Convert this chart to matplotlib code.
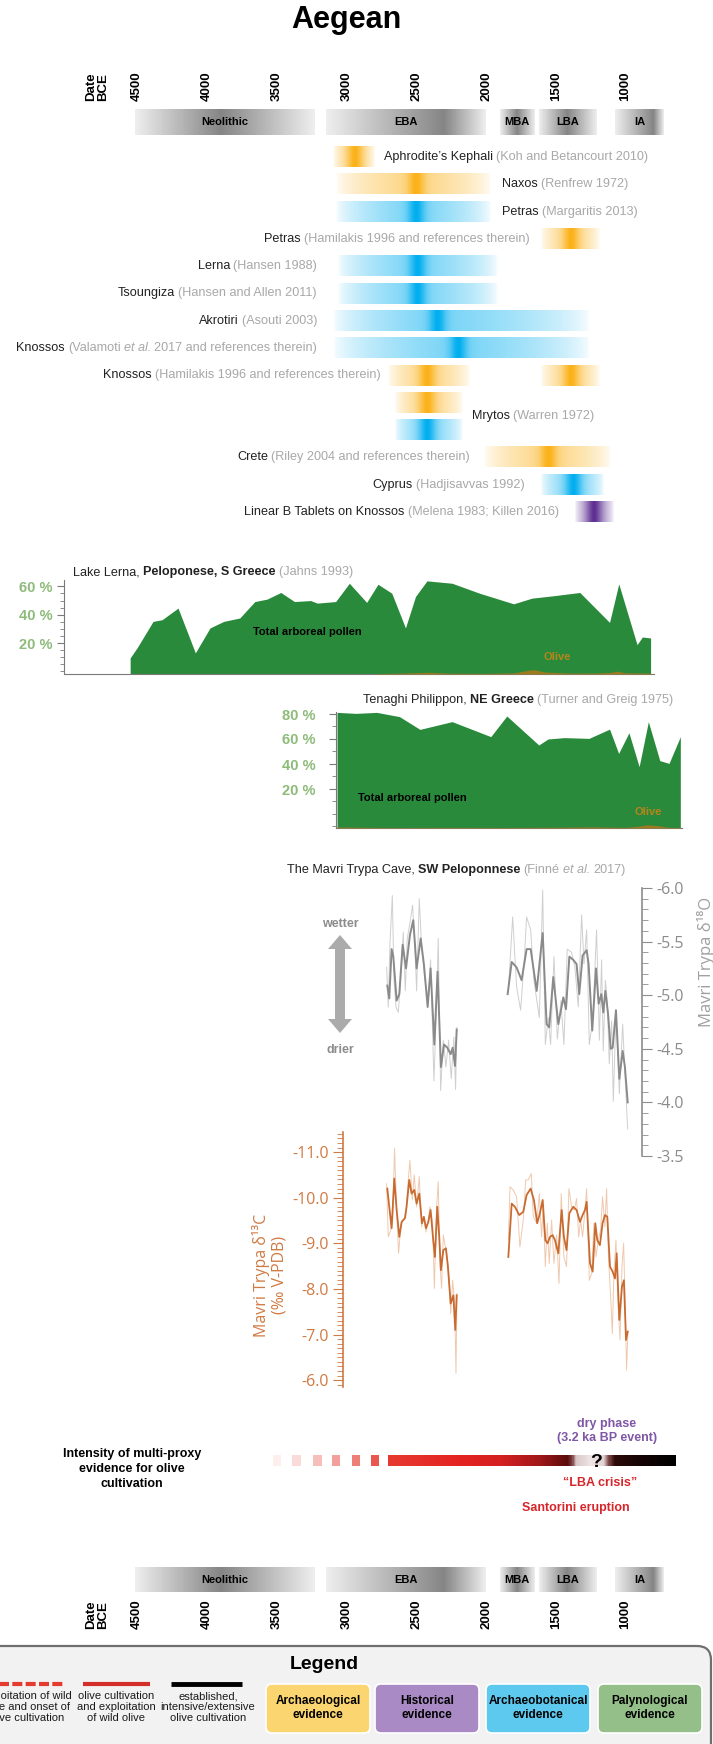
import numpy as np
import matplotlib
matplotlib.use("Agg")
import matplotlib.pyplot as plt
from matplotlib import font_manager
from matplotlib.colors import to_rgb, LinearSegmentedColormap
from matplotlib.patches import FancyBboxPatch, FancyArrow
from matplotlib.ticker import MultipleLocator

nan = np.nan

# Fuentes
installed = {f.name for f in font_manager.fontManager.ttflist}
HAS_NARROW = 'Liberation Sans Narrow' in installed
NARROW = ['Liberation Sans Narrow' if HAS_NARROW else 'Liberation Sans', 'DejaVu Sans']
SANS = ['Liberation Sans', 'DejaVu Sans']
MYRIAD = ['Open Sans', 'DejaVu Sans']
NS = 1.0 if HAS_NARROW else 0.84
plt.rcParams['font.family'] = SANS

# ---------------- datos ----------------
year_ticks = [4500, 4000, 3500, 3000, 2500, 2000, 1500, 1000]

periods = ['Neolithic', 'EBA', 'MBA', 'LBA', 'IA']
period_start = [4515, 3145, 1900, 1620, 1075]
period_end = [3230, 2000, 1655, 1210, 725]
period_peak = [3900, 2300, 1780, 1420, 800]

# barras de evidencia (fila, inicio, fin, máximo, tipo)
ev_row = [0, 1, 2, 3, 4, 5, 6, 7, 8, 8, 9, 10, 11, 12, 13]
ev_start = [3095, 3075, 3075, 1605, 3060, 3060, 3095, 3095, 2700, 1605, 2650, 2650, 2015, 1605, 1360]
ev_end = [2800, 1965, 1965, 1185, 1915, 1915, 1260, 1260, 2115, 1185, 2165, 2165, 1110, 1160, 1085]
ev_peak = [2940, 2500, 2500, 1390, 2490, 2490, 2350, 2200, 2420, 1390, 2420, 2420, 1555, 1375, 1225]
ev_kind = ['arch', 'arch', 'bot', 'arch', 'bot', 'bot', 'bot', 'bot', 'arch', 'arch',
           'arch', 'bot', 'arch', 'bot', 'hist']

site_names = ["Aphrodite’s Kephali", "Naxos", "Petras", "Petras", "Lerna", "Tsoungiza",
              "Akrotiri", "Knossos", "Knossos", "Mrytos", "Crete", "Cyprus",
              "Linear B Tablets on Knossos"]
site_refs = ["(Koh and Betancourt 2010)", "(Renfrew 1972)", "(Margaritis 2013)",
             "(Hamilakis 1996 and references therein)", "(Hansen 1988)",
             "(Hansen and Allen 2011)", "(Asouti 2003)",
             "(Valamoti |et al.| 2017 and references therein)",
             "(Hamilakis 1996 and references therein)", "(Warren 1972)",
             "(Riley 2004 and references therein)", "(Hadjisavvas 1992)",
             "(Melena 1983; Killen 2016)"]
site_row = [0, 1, 2, 3, 4, 5, 6, 7, 8, 9.5, 11, 12, 13]
site_side = ['r', 'r', 'r', 'l', 'l', 'l', 'l', 'l', 'l', 'r', 'l', 'l', 'l']
site_anchor = [2730, 1885, 1885, 1685, 3210, 3210, 3210, 3210, 2752, 2100, 2114, 1720, 1477]

# Lago Lerna (Jahns 1993)
lerna_yr = [4549, 4500, 4385, 4320, 4206, 4082, 3977, 3879, 3764, 3656, 3569, 3470, 3372,
            3257, 3208, 3077, 2979, 2855, 2774, 2675, 2577, 2505, 2423, 2243, 2047, 1802,
            1671, 1524, 1328, 1115, 1049, 918, 880, 821]
lerna_ap = [9.6, 16.6, 35.3, 36.5, 44.7, 13.1, 30.7, 35.3, 37.7, 49.3, 51.0, 55.7, 49.3,
            50.0, 48.2, 49.3, 62.2, 48.7, 61.5, 55.2, 30.7, 52.9, 63.9, 62.2, 55.2, 47.7,
            51.7, 53.3, 55.7, 34.6, 61.8, 18.9, 24.3, 23.6]
lerna_olive_yr = [2800, 2600, 2410, 2250, 2000, 1800, 1700, 1650, 1580, 1400, 1200, 1100,
                  1060, 1000, 821]
lerna_olive = [0.2, 0.6, 1.2, 0.5, 0.4, 0.8, 2.6, 3.0, 1.4, 0.6, 0.7, 1.2, 2.0, 0.8, 0.6]

# Tenaghi Philippon (Turner y Greig 1975)
ten_yr = [3067, 2931, 2783, 2620, 2473, 2243, 1966, 1851, 1622, 1556, 1441, 1262, 1115,
          1050, 976, 903, 837, 755, 689, 608]
ten_ap = [81.3, 80.5, 81.3, 77.9, 67.7, 73.9, 61.9, 78.4, 55.2, 60.0, 61.1, 60.5, 67.9,
          48.5, 65.0, 37.9, 73.9, 42.7, 40.5, 61.9]
ten_olive_yr = [3067, 2700, 2300, 1900, 1500, 1250, 1000, 900, 850, 760, 700, 608]
ten_olive = [0.8, 0.3, 0.5, 0.4, 0.6, 0.9, 0.5, 1.5, 2.6, 1.8, 0.6, 0.4]

# Cueva Mavri Trypa (Finné et al. 2017), d18O
d18o_raw_yr = [2712, 2700, 2688, 2671, 2659, 2645, 2628, 2604, 2593, 2578, 2564, 2545, 2526,
               2509, 2497, 2478, 2461, 2437, 2413, 2397, 2373, 2354, 2342, 2325, 2306, 2287,
               2268, 2249, 2230, 2218, 2208, nan,
               1840, 1809, 1781, 1752, 1728, 1709, 1680, 1657, 1618, 1594, 1575, 1554, 1537,
               1513, 1489, 1463, 1442, 1418, 1387, 1363, 1339, 1315, 1298, 1279, 1260, 1236,
               1208, 1188, 1172, 1160, 1145, 1131, 1117, 1100, 1088, 1069, 1045, 1021, 1002, 985]
d18o_raw = [-5.26, -4.89, -5.48, -5.93, -5.14, -4.89, -4.84, -5.29, -5.59, -5.04, -5.53, -5.67,
            -5.84, -5.45, -5.04, -5.90, -5.45, -5.14, -4.95, -5.33, -4.20, -4.92, -5.53, -4.11,
            -4.58, -4.33, -4.58, -4.22, -4.61, -4.12, -4.70, nan,
            -5.04, -5.73, -5.08, -4.86, -5.29, -5.73, -5.61, -5.14, -4.79, -5.98, -4.54, -4.79,
            -4.54, -5.36, -4.59, -4.95, -4.54, -5.43, -5.40, -5.26, -4.89, -5.75, -5.29, -5.61,
            -4.54, -4.76, -5.61, -4.58, -5.33, -4.48, -5.14, -4.95, -4.36, -4.76, -4.01, -4.83,
            -4.08, -4.73, -4.20, -3.75]
d18o_sm_yr = [2707, 2693, 2676, 2664, 2640, 2621, 2597, 2573, 2545, 2521, 2497, 2468, 2445,
              2418, 2397, 2370, 2347, 2323, 2301, 2277, 2253, 2239, 2222, 2210, nan,
              1845, 1816, 1781, 1745, 1709, 1680, 1637, 1594, 1566, 1547, 1518, 1482, 1446,
              1427, 1403, 1375, 1351, 1332, 1308, 1279, 1265, 1239, 1212, 1193, 1174, 1160,
              1145, 1126, 1107, 1093, 1069, 1045, 1021, 1005, 985]
d18o_sm = [-5.09, -4.97, -5.43, -5.36, -4.95, -5.01, -5.47, -5.25, -5.56, -5.70, -5.25, -5.53,
           -5.29, -4.89, -5.25, -4.54, -5.22, -4.33, -4.54, -4.51, -4.45, -4.51, -4.34, -4.68, nan,
           -5.01, -5.31, -5.26, -5.14, -5.43, -5.43, -5.04, -5.58, -4.73, -4.70, -5.17, -4.73,
           -4.98, -4.87, -5.36, -5.33, -5.29, -5.01, -5.37, -5.42, -5.29, -4.67, -5.25, -4.92,
           -5.01, -4.84, -5.04, -4.83, -4.50, -4.51, -4.86, -4.22, -4.48, -4.33, -4.00]

# d13C
d13c_raw_yr = [2712, 2700, 2683, 2669, 2655, 2640, 2626, 2609, 2593, 2576, 2557, 2545, 2528,
               2514, 2497, 2478, 2461, 2445, 2430, 2413, 2402, 2382, 2370, 2354, 2342, 2330,
               2318, 2306, 2287, 2270, 2253, 2239, 2225, 2215, 2208, nan,
               1840, 1828, 1805, 1781, 1757, 1733, 1716, 1697, 1676, 1661, 1637, 1618, 1602,
               1590, 1575, 1561, 1547, 1530, 1513, 1494, 1477, 1461, 1442, 1423, 1406, 1387,
               1368, 1351, 1336, 1322, 1308, 1293, 1279, 1260, 1243, 1227, 1212, 1196, 1179,
               1165, 1148, 1136, 1122, 1107, 1095, 1083, 1069, 1055, 1040, 1026, 1014, 1005,
               993, 983]
d13c_raw = [-10.31, -9.14, -9.29, -9.51, -11.08, -9.69, -8.78, -9.44, -9.51, -9.55, -10.39,
            -10.82, -9.95, -10.50, -9.80, -10.46, -9.36, -9.58, -9.25, -9.51, -9.80, -9.44,
            -8.01, -9.80, -10.35, -8.56, -8.01, -9.18, -8.85, -8.49, -7.46, -8.19, -7.68,
            -6.15, -7.90, nan,
            -9.07, -10.24, -10.17, -10.02, -8.92, -9.51, -10.39, -10.39, -10.53, -9.58, -9.44,
            -10.09, -9.14, -9.80, -8.49, -9.44, -8.56, -9.51, -8.56, -9.18, -8.12, -10.09,
            -8.70, -8.49, -10.20, -9.80, -9.73, -9.98, -9.14, -9.51, -9.14, -9.66, -10.20,
            -8.19, -8.34, -9.44, -8.70, -9.07, -9.29, -10.02, -9.36, -10.20, -8.63, -7.83,
            -7.02, -8.41, -9.07, -7.75, -6.88, -8.49, -9.00, -7.83, -6.22, -7.10]
d13c_sm_yr = [2707, 2693, 2676, 2657, 2640, 2621, 2604, 2581, 2569, 2550, 2533, 2514, 2497,
              2478, 2459, 2445, 2430, 2413, 2397, 2378, 2366, 2349, 2335, 2323, 2306, 2287,
              2273, 2253, 2234, 2220, 2210, nan,
              1840, 1816, 1793, 1762, 1733, 1709, 1680, 1657, 1633, 1614, 1594, 1575, 1559,
              1542, 1523, 1506, 1482, 1458, 1442, 1423, 1403, 1375, 1351, 1327, 1308, 1291,
              1279, 1255, 1236, 1217, 1203, 1184, 1165, 1148, 1131, 1112, 1093, 1076, 1064,
              1045, 1026, 1012, 997, 985]
d13c_sm = [-10.20, -9.80, -9.33, -10.42, -9.73, -9.14, -9.47, -9.55, -9.80, -10.39, -10.09,
           -10.17, -9.87, -10.09, -9.44, -9.58, -9.33, -9.47, -9.73, -9.07, -8.70, -9.80,
           -9.14, -8.41, -8.85, -8.89, -8.49, -7.68, -7.86, -7.10, -7.86, nan,
           -8.70, -9.87, -9.80, -9.62, -9.69, -10.06, -10.20, -9.95, -9.44, -9.66, -9.95,
           -9.07, -9.00, -9.14, -9.18, -9.07, -8.78, -9.73, -9.14, -8.85, -9.66, -9.80,
           -9.73, -9.47, -9.62, -9.73, -9.91, -8.56, -8.38, -9.44, -9.07, -8.96, -9.44,
           -9.62, -9.58, -8.49, -8.38, -8.23, -8.78, -7.32, -8.05, -8.19, -6.88, -7.06]

# intensidad de la evidencia del cultivo del olivo
dash_start = [3526, 3390, 3239, 3103, 2960, 2824]
dash_end = [3468, 3325, 3175, 3046, 2903, 2767]
dash_alpha = [0.08, 0.18, 0.32, 0.48, 0.65, 0.85]
int_stop_yr = [2702, 2200, 1885, 1620, 1420, 1385, 1360, 1250, 1160, 1120, 1080, 900, 646]
int_stop_col = ['#E63A30', '#E42320', '#D32020', '#A0181A', '#5C0B0C', '#7A3A3A', '#D9C6C6',
                '#EFE6E6', '#E2D3D3', '#7A4545', '#2E0A0A', '#150404', '#000000']

# ---------------- figura ----------------
W, H = 713, 1744
fig = plt.figure(figsize=(W / 100, H / 100), dpi=100)
fig.patch.set_facecolor('white')

EV_COLORS = {'arch': '#FBB117', 'bot': '#00AEEF', 'hist': '#5C2D91'}
GREEN = '#2A8A3C'
OLIVE_FILL = '#9C7A1E'
OLIVE_TXT = '#B8841A'
GREEN_LAB = '#8DBB7A'
NAME_C = '#222222'
REF_C = '#A8A8A8'
ROW_FS = 10.8 * NS


def px_axes(x0, y0, x1, y1):
    ax = fig.add_axes([x0 / W, 1 - y1 / H, (x1 - x0) / W, (y1 - y0) / H])
    ax.patch.set_alpha(0)
    return ax


def year_at(px):
    return 4500 - (px - 137) / 0.1396


def time_axes(x0, y0, x1, y1):
    ax = px_axes(x0, y0, x1, y1)
    ax.set_xlim(year_at(x0), year_at(x1))
    return ax


def gradient(color, start, end, peak, kind, n=400):
    xs = np.linspace(start, end, n)
    t = np.where(xs >= peak, (xs - peak) / max(start - peak, 1), (peak - xs) / max(peak - end, 1))
    t = np.clip(t, 0, 1)
    if kind == 'period':
        a = 0.12 + 0.78 * (1 - t)
    else:
        d = np.abs(xs - peak)
        a = 0.55 * (1 - t) ** 0.6 + 0.45 * np.exp(-(d / 60.0) ** 2)
    rgba = np.zeros((1, n, 4))
    rgba[..., :3] = to_rgb(color)
    rgba[..., 3] = np.clip(a, 0, 1)
    return rgba


def ref_parts(ref):
    out = []
    for i, piece in enumerate(ref.split('|')):
        if piece.strip():
            out.append((piece.strip(), REF_C, 'normal', 'italic' if i % 2 else 'normal'))
    return out


def rich(ax, x, y, parts, ha='left', size=ROW_FS, family=NARROW, transform=None):
    gap = size * 0.26
    order = parts if ha == 'left' else parts[::-1]
    txt, col, wt, st = order[0]
    prev = ax.text(x, y, txt, color=col, weight=wt, style=st, ha=ha, va='center',
                   fontsize=size, family=family,
                   transform=transform if transform is not None else ax.transData)
    for txt, col, wt, st in order[1:]:
        if ha == 'left':
            prev = ax.annotate(txt, xy=(1, 0), xycoords=prev, xytext=(gap, 0),
                               textcoords='offset points', ha='left', va='bottom',
                               color=col, weight=wt, style=st, fontsize=size, family=family)
        else:
            prev = ax.annotate(txt, xy=(0, 0), xycoords=prev, xytext=(-gap, 0),
                               textcoords='offset points', ha='right', va='bottom',
                               color=col, weight=wt, style=st, fontsize=size, family=family)
    return prev


def period_axes(y0, y1, top):
    ax = time_axes(0, y0, W, y1)
    ax.set_autoscale_on(False)
    ax.set_ylim(0, 1)
    for name, s, e, p in zip(periods, period_start, period_end, period_peak):
        ax.imshow(gradient('#777777', s, e, p, 'period'), extent=(s, e, 0, 1),
                  aspect='auto', interpolation='nearest')
        ax.text((s + e) / 2, 0.5, name, ha='center', va='center', weight='bold',
                fontsize=8, family=SANS)
    ax.set_xlim(year_at(0), year_at(W))
    ax.set_ylim(0, 1)
    ax.set_xticks(year_ticks)
    ax.set_xticklabels([str(y) for y in year_ticks], rotation=90, fontweight='bold',
                       fontsize=9.5)
    ax.tick_params(axis='x', length=0, top=top, labeltop=top, bottom=not top,
                   labelbottom=not top, pad=5.5)
    ax.set_yticks([])
    for sp in ax.spines.values():
        sp.set_visible(False)
    return ax


# eje temporal superior e inferior
period_axes(109, 135, True)
period_axes(1567, 1592, False)

# barras de evidencia
ax_ev = time_axes(0, 140, W, 530)
ax_ev.set_autoscale_on(False)
for r, s, e, p, k in zip(ev_row, ev_start, ev_end, ev_peak, ev_kind):
    ax_ev.imshow(gradient(EV_COLORS[k], s, e, p, 'evidence'), extent=(s, e, r + 0.37, r - 0.37),
                 aspect='auto', interpolation='nearest')
for name, ref, r, side, anc in zip(site_names, site_refs, site_row, site_side, site_anchor):
    parts = [(name, NAME_C, 'normal', 'normal')] + ref_parts(ref)
    rich(ax_ev, anc, r, parts, ha='left' if side == 'r' else 'right')
ax_ev.set_xlim(year_at(0), year_at(W))
ax_ev.set_ylim(13.66, -0.62)
ax_ev.axis('off')


# paneles de polen
def pollen_panel(x0, y0, x1, y1, ylo, yhi, yrs, ap, oyrs, olive, minor, pad):
    ax = time_axes(x0, y0, x1, y1)
    ax.fill_between(yrs, ylo, ap, color=GREEN, lw=0)
    ax2 = ax.twinx()
    ax2.fill_between(oyrs, 0, olive, color=OLIVE_FILL, lw=0)
    ax2.set_ylim(0, yhi - ylo)
    ax2.axis('off')
    ax.set_xlim(year_at(x0), year_at(x1))
    ax.set_ylim(ylo, yhi)
    for k in ('top', 'right'):
        ax.spines[k].set_visible(False)
    for k in ('left', 'bottom'):
        ax.spines[k].set_color('#7A7A7A')
    ax.set_xticks([])
    ax.set_yticks([20, 40, 60] if yhi < 70 else [20, 40, 60, 80])
    ax.set_yticklabels(['%d %%' % v for v in ax.get_yticks()], fontweight='bold', fontsize=10.5,
                       color=GREEN_LAB)
    ax.yaxis.set_minor_locator(MultipleLocator(minor))
    ax.tick_params(axis='y', which='major', length=5, color='#7A7A7A', pad=pad)
    ax.tick_params(axis='y', which='minor', length=3, color='#7A7A7A')
    return ax


pollen_panel(64, 580, 654, 674, -1.8, 64.5, lerna_yr, lerna_ap, lerna_olive_yr, lerna_olive, 5, 3)
pollen_panel(336, 712, 682, 828, -11.2, 81.6, ten_yr, ten_ap, ten_olive_yr, ten_olive, 10, 10)

# Mavri Trypa d18O
GREY_AX = '#8C8C8C'
ax_o = time_axes(343, 888, 641.5, 1156)
ax_o.plot(d18o_raw_yr, d18o_raw, color='#CFCFCF', lw=0.7)
ax_o.plot(d18o_sm_yr, d18o_sm, color='#8A8A8A', lw=1.4)
ax_o.set_xlim(year_at(343), year_at(641.5))
ax_o.set_ylim(-3.5, -6.0)
for k in ('top', 'left', 'bottom'):
    ax_o.spines[k].set_visible(False)
ax_o.spines['right'].set_color(GREY_AX)
ax_o.spines['right'].set_linewidth(1.2)
ax_o.set_xticks([])
ax_o.yaxis.tick_right()
o_ticks = [-6.0, -5.5, -5.0, -4.5, -4.0, -3.5]
ax_o.set_yticks(o_ticks)
ax_o.set_yticklabels(['%.1f' % v for v in o_ticks], fontsize=11.5, family=MYRIAD, color=GREY_AX)
ax_o.yaxis.set_minor_locator(MultipleLocator(0.1))
ax_o.tick_params(axis='y', which='major', length=7, color=GREY_AX, pad=4)
ax_o.tick_params(axis='y', which='minor', length=4, color=GREY_AX)

# Mavri Trypa d13C
ORANGE = '#D07A43'
ax_c = time_axes(343, 1132, 641.5, 1387)
ax_c.plot(d13c_raw_yr, d13c_raw, color='#EFC9AE', lw=0.7)
ax_c.plot(d13c_sm_yr, d13c_sm, color='#C96B30', lw=1.3)
ax_c.set_xlim(year_at(343), year_at(641.5))
ax_c.set_ylim(-5.85, -11.44)
for k in ('top', 'right', 'bottom'):
    ax_c.spines[k].set_visible(False)
ax_c.spines['left'].set_color(ORANGE)
ax_c.spines['left'].set_linewidth(1.2)
ax_c.set_xticks([])
c_ticks = [-11.0, -10.0, -9.0, -8.0, -7.0, -6.0]
ax_c.set_yticks(c_ticks)
ax_c.set_yticklabels(['%.1f' % v for v in c_ticks], fontsize=11.5, family=MYRIAD, color=ORANGE)
ax_c.yaxis.set_minor_locator(MultipleLocator(0.1))
ax_c.tick_params(axis='y', which='major', length=7, color=ORANGE, pad=3)
ax_c.tick_params(axis='y', which='minor', length=4, color=ORANGE)

# barra de intensidad
ax_i = time_axes(0, 1455, W, 1466)
ax_i.set_autoscale_on(False)
span = int_stop_yr[0] - int_stop_yr[-1]
cmap = LinearSegmentedColormap.from_list(
    'olive_int', [((int_stop_yr[0] - y) / span, c) for y, c in zip(int_stop_yr, int_stop_col)])
xs = np.linspace(0, 1, 600)
ax_i.imshow(cmap(xs)[None, :, :], extent=(int_stop_yr[0], int_stop_yr[-1], 0, 1),
            aspect='auto', interpolation='nearest')
dash_cols = [to_rgb('#E63A30') + (a,) for a in dash_alpha]
ax_i.barh(0.5, np.subtract(dash_end, dash_start), left=dash_start, height=1,
          color=dash_cols, lw=0)
ax_i.set_xlim(year_at(0), year_at(W))
ax_i.set_ylim(0, 1)
ax_i.axis('off')

# ---------------- capa de textos y leyenda (píxeles) ----------------
ov = px_axes(0, 0, W, H)
ov.set_xlim(0, W)
ov.set_ylim(H, 0)
ov.axis('off')

ov.text(346, 20, 'Aegean', ha='center', va='center', fontsize=22, weight='bold')
for yy in (87, 1615):
    ov.text(97, yy, 'Date\nBCE', rotation=90, ha='center', va='center', fontsize=9.5,
            weight='bold', linespacing=1.0)

# títulos de los paneles
rich(ov, 73, 572, [('Lake Lerna,', NAME_C, 'normal', 'normal'),
                   ('Peloponese, S Greece', NAME_C, 'bold', 'normal'),
                   ('(Jahns 1993)', REF_C, 'normal', 'normal')])
rich(ov, 363, 700, [('Tenaghi Philippon,', NAME_C, 'normal', 'normal'),
                    ('NE Greece', NAME_C, 'bold', 'normal'),
                    ('(Turner and Greig 1975)', REF_C, 'normal', 'normal')])
rich(ov, 287, 870, [('The Mavri Trypa Cave,', NAME_C, 'normal', 'normal'),
                    ('SW Peloponnese', NAME_C, 'bold', 'normal'),
                    ('(Finné', REF_C, 'normal', 'normal'),
                    ('et al.', REF_C, 'normal', 'italic'),
                    ('2017)', REF_C, 'normal', 'normal')])

ov.text(307, 632, 'Total arboreal pollen', ha='center', va='center', fontsize=8, weight='bold')
ov.text(412, 798, 'Total arboreal pollen', ha='center', va='center', fontsize=8, weight='bold')
ov.text(557, 657, 'Olive', ha='center', va='center', fontsize=8, weight='bold', color=OLIVE_TXT)
ov.text(648, 812, 'Olive', ha='center', va='center', fontsize=8, weight='bold', color=OLIVE_TXT)

# flecha húmedo / seco
ov.text(340, 924, 'wetter', ha='center', va='center', fontsize=9, weight='bold', color=GREY_AX)
ov.text(340, 1050, 'drier', ha='center', va='center', fontsize=9, weight='bold', color=GREY_AX)
ov.add_patch(FancyArrow(340, 984, 0, -49, width=10, head_width=24, head_length=14,
                        length_includes_head=True, color='#ABABAB', lw=0))
ov.add_patch(FancyArrow(340, 984, 0, 49, width=10, head_width=24, head_length=14,
                        length_includes_head=True, color='#ABABAB', lw=0))

ov.text(706, 962, 'Mavri Trypa δ¹⁸O', rotation=90, ha='center', va='center', fontsize=12,
        family=MYRIAD, color='#A0A0A0')
ov.text(270, 1275, 'Mavri Trypa δ¹³C\n(‰ V-PDB)', rotation=90, ha='center', va='center',
        fontsize=11.5, family=MYRIAD, color=ORANGE, linespacing=1.1)

# textos de la barra de intensidad
ov.text(132, 1469, 'Intensity of multi-proxy\nevidence for olive\ncultivation', ha='center',
        va='center', fontsize=9, weight='bold', linespacing=1.3)
ov.text(607, 1431, 'dry phase\n(3.2 ka BP event)', ha='center', va='center', fontsize=9,
        weight='bold', color='#7E57A6', linespacing=1.2)
ov.text(596, 1462, '?', ha='center', va='center', fontsize=14, weight='bold', color='black')
ov.text(600, 1483, '“LBA crisis”', ha='center', va='center', fontsize=9, weight='bold',
        color='#D7262B')
ov.text(576, 1508, 'Santorini eruption', ha='center', va='center', fontsize=9, weight='bold',
        color='#D7262B')

# leyenda
ov.add_patch(FancyBboxPatch((-40, 1646), 751, 200, boxstyle='round,pad=0,rounding_size=14',
                            fc='#F2F2F2', ec='#6F6F6F', lw=1.6))
ov.text(324, 1664, 'Legend', ha='center', va='center', fontsize=14, weight='bold')
ov.plot([-5, 64], [1684, 1684], color='#E53B2F', lw=3, dashes=(2.4, 0.8))
ov.plot([83, 150], [1684, 1684], color='#D42E2A', lw=3, solid_capstyle='butt')
ov.plot([171, 242], [1684, 1684], color='black', lw=3.5, solid_capstyle='butt')
leg_line_txt = ['exploitation of wild\nolive and onset of\nolive cultivation',
                'olive cultivation\nand exploitation\nof wild olive',
                'established,\nintensive/extensive\nolive cultivation']
for cx, t in zip([26, 116, 208], leg_line_txt):
    ov.text(cx, 1691, t, ha='center', va='top', fontsize=9.5 * NS, family=NARROW,
            color='#1A1A1A', linespacing=1.1)

box_txt = ['Archaeological\nevidence', 'Historical\nevidence', 'Archaeobotanical\nevidence',
           'Palynological\nevidence']
box_col = ['#FBD56F', '#A98AC4', '#5DC9EE', '#94BF88']
box_x0 = [266, 375, 486, 598]
for x0, t, c in zip(box_x0, box_txt, box_col):
    ov.add_patch(FancyBboxPatch((x0, 1684), 104, 49, boxstyle='round,pad=0,rounding_size=6',
                                fc=c, ec='white', lw=1.2))
    ov.text(x0 + 52, 1708, t, ha='center', va='center', fontsize=8.5, weight='bold',
            linespacing=1.25)

fig.savefig('out.png', dpi=100)
